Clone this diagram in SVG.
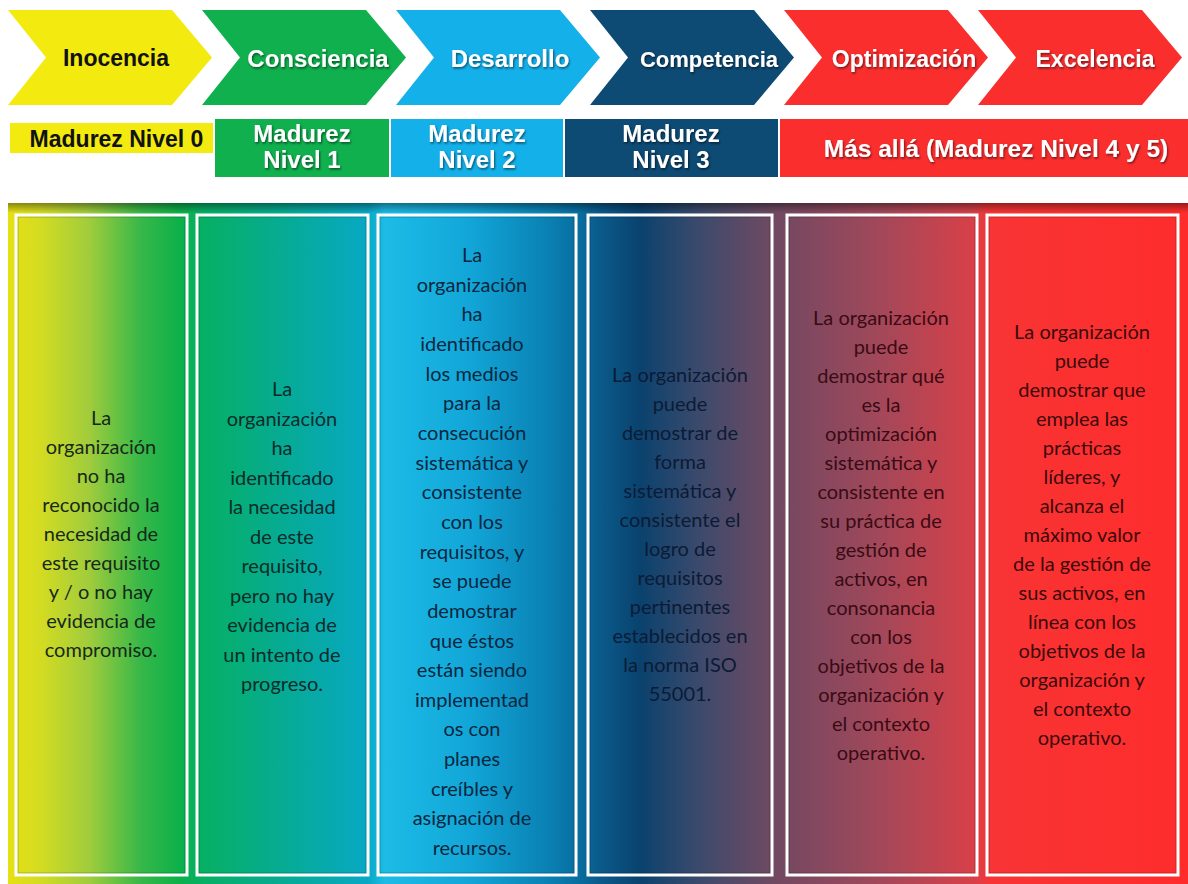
<svg xmlns="http://www.w3.org/2000/svg" width="1188" height="884" viewBox="0 0 1188 884">
  <defs>
    <style>
      .hd { font-family: "Liberation Sans", Arial, sans-serif; font-weight: bold; text-anchor: middle; }
      .wt { fill: #ffffff; filter: url(#sh); }
      .bk { fill: #111111; }
      .col { font-family: Lato, "Open Sans", sans-serif; font-size: 20px; text-anchor: middle; }
      .box { fill: none; stroke: #ffffff; stroke-width: 3; }
      .boxin { fill: none; stroke: #000000; stroke-opacity: 0.22; stroke-width: 1; }
    </style>
    <filter id="sh" x="-10%" y="-20%" width="120%" height="150%">
      <feDropShadow dx="1" dy="1.5" stdDeviation="1" flood-color="#000000" flood-opacity="0.55"/>
    </filter>
    <linearGradient id="bg" gradientUnits="userSpaceOnUse" x1="8" y1="0" x2="1188" y2="0">
      <stop offset="0" stop-color="#e6e012"/>
      <stop offset="0.027" stop-color="#d4dc22"/>
      <stop offset="0.069" stop-color="#a0cc3c"/>
      <stop offset="0.112" stop-color="#38b848"/>
      <stop offset="0.146" stop-color="#0cb04a"/>
      <stop offset="0.163" stop-color="#06b062"/>
      <stop offset="0.231" stop-color="#06ab92"/>
      <stop offset="0.305" stop-color="#08a8c4"/>
      <stop offset="0.319" stop-color="#1cbce6"/>
      <stop offset="0.391" stop-color="#12a6d8"/>
      <stop offset="0.459" stop-color="#0a80b2"/>
      <stop offset="0.485" stop-color="#086c9e"/>
      <stop offset="0.502" stop-color="#0a5a8a"/>
      <stop offset="0.536" stop-color="#0a426e"/>
      <stop offset="0.586" stop-color="#3c4a6c"/>
      <stop offset="0.646" stop-color="#6e4a62"/>
      <stop offset="0.671" stop-color="#7c4860"/>
      <stop offset="0.739" stop-color="#a2485a"/>
      <stop offset="0.819" stop-color="#d84048"/>
      <stop offset="0.834" stop-color="#f83434"/>
      <stop offset="1" stop-color="#ff2c2c"/>
    </linearGradient>
    <linearGradient id="topshade" x1="0" y1="0" x2="0" y2="1">
      <stop offset="0" stop-color="#000000" stop-opacity="0.4"/>
      <stop offset="1" stop-color="#000000" stop-opacity="0"/>
    </linearGradient>
  </defs>

  <rect width="1188" height="884" fill="#ffffff"/>

  <!-- chevrons -->
  <g id="chev-inocencia">
    <polygon points="8,10 172,10 212,57.5 172,105 8,105 46,57.5" fill="#f3ea10"/>
    <text class="hd bk" x="116" y="66" font-size="23">Inocencia</text>
  </g>
  <g id="chev-consciencia">
    <polygon points="202,10 366,10 406,57.5 366,105 202,105 240,57.5" fill="#10b04e"/>
    <text class="hd wt" x="318" y="67" font-size="24">Consciencia</text>
  </g>
  <g id="chev-desarrollo">
    <polygon points="396,10 560,10 600,57.5 560,105 396,105 434,57.5" fill="#14b0ea"/>
    <text class="hd wt" x="510" y="67" font-size="24">Desarrollo</text>
  </g>
  <g id="chev-competencia">
    <polygon points="590,10 754,10 794,57.5 754,105 590,105 628,57.5" fill="#0d4a74"/>
    <text class="hd wt" x="709" y="67" font-size="22">Competencia</text>
  </g>
  <g id="chev-optimizacion">
    <polygon points="784,10 948,10 988,57.5 948,105 784,105 822,57.5" fill="#fb2e2e"/>
    <text class="hd wt" x="904" y="67" font-size="23">Optimización</text>
  </g>
  <g id="chev-excelencia">
    <polygon points="978,10 1142,10 1182,57.5 1142,105 978,105 1016,57.5" fill="#fb2e2e"/>
    <text class="hd wt" x="1095" y="67" font-size="23">Excelencia</text>
  </g>

  <!-- maturity labels -->
  <g id="lvl0">
    <rect x="10" y="123" width="203" height="30" fill="#f3ea10"/>
    <text class="hd bk" x="116.5" y="147" font-size="23">Madurez Nivel 0</text>
  </g>
  <g id="lvl1">
    <rect x="215" y="119" width="174" height="58" fill="#10b04e"/>
    <text class="hd wt" x="302" y="142" font-size="24">Madurez</text>
    <text class="hd wt" x="302" y="168" font-size="24">Nivel 1</text>
  </g>
  <g id="lvl2">
    <rect x="391" y="119" width="172" height="58" fill="#14b0ea"/>
    <text class="hd wt" x="477" y="142" font-size="24">Madurez</text>
    <text class="hd wt" x="477" y="168" font-size="24">Nivel 2</text>
  </g>
  <g id="lvl3">
    <rect x="565" y="119" width="213" height="58" fill="#0d4a74"/>
    <text class="hd wt" x="671" y="142" font-size="24">Madurez</text>
    <text class="hd wt" x="671" y="168" font-size="24">Nivel 3</text>
  </g>
  <g id="lvl45">
    <rect x="780" y="119" width="408" height="58" fill="#fb2e2e"/>
    <text class="hd wt" x="996" y="157" font-size="24.5">Más allá (Madurez Nivel 4 y 5)</text>
  </g>

  <!-- background band -->
  <rect x="8" y="203" width="1180" height="681" fill="url(#bg)"/>
  <rect x="8" y="203" width="1180" height="10" fill="url(#topshade)"/>

  <g id="connectors"></g>

  <!-- columns -->
  <g id="col1">
    <rect class="boxin" x="18" y="217" width="167" height="656"/>
    <rect class="box" x="16" y="215" width="171" height="660"/>
    <g class="col" fill="#15291a">
      <text x="101" y="425">La</text>
      <text x="101" y="454">organización</text>
      <text x="101" y="483">no ha</text>
      <text x="101" y="512">reconocido la</text>
      <text x="101" y="541">necesidad de</text>
      <text x="101" y="570">este requisito</text>
      <text x="101" y="599">y / o no hay</text>
      <text x="101" y="628">evidencia de</text>
      <text x="101" y="657">compromiso.</text>
    </g>
  </g>
  <g id="col2">
    <rect class="boxin" x="199" y="217" width="167" height="656"/>
    <rect class="box" x="197" y="215" width="171" height="660"/>
    <g class="col" fill="#0b2c2a">
      <text x="282" y="396">La</text>
      <text x="282" y="425.5">organización</text>
      <text x="282" y="455">ha</text>
      <text x="282" y="484.5">identificado</text>
      <text x="282" y="514">la necesidad</text>
      <text x="282" y="543.5">de este</text>
      <text x="282" y="573">requisito,</text>
      <text x="282" y="602.5">pero no hay</text>
      <text x="282" y="632">evidencia de</text>
      <text x="282" y="661.5">un intento de</text>
      <text x="282" y="691">progreso.</text>
    </g>
  </g>
  <g id="col3">
    <rect class="boxin" x="380" y="217" width="194" height="656"/>
    <rect class="box" x="378" y="215" width="198" height="660"/>
    <g class="col" fill="#0a2740">
      <text x="472" y="262">La</text>
      <text x="472" y="291.6">organización</text>
      <text x="472" y="321.3">ha</text>
      <text x="472" y="351">identificado</text>
      <text x="472" y="380.6">los medios</text>
      <text x="472" y="410.2">para la</text>
      <text x="472" y="439.9">consecución</text>
      <text x="472" y="469.5">sistemática y</text>
      <text x="472" y="499.2">consistente</text>
      <text x="472" y="528.9">con los</text>
      <text x="472" y="558.5">requisitos, y</text>
      <text x="472" y="588.2">se puede</text>
      <text x="472" y="617.8">demostrar</text>
      <text x="472" y="647.5">que éstos</text>
      <text x="472" y="677.1">están siendo</text>
      <text x="472" y="706.8">implementad</text>
      <text x="472" y="736.4">os con</text>
      <text x="472" y="766.1">planes</text>
      <text x="472" y="795.7">creíbles y</text>
      <text x="472" y="825.4">asignación de</text>
      <text x="472" y="855">recursos.</text>
    </g>
  </g>
  <g id="col4">
    <rect class="boxin" x="590" y="217" width="180" height="656"/>
    <rect class="box" x="588" y="215" width="184" height="660"/>
    <g class="col" fill="#0c1b35">
      <text x="680" y="382">La organización</text>
      <text x="680" y="411">puede</text>
      <text x="680" y="440">demostrar de</text>
      <text x="680" y="469">forma</text>
      <text x="680" y="498">sistemática y</text>
      <text x="680" y="527">consistente el</text>
      <text x="680" y="556">logro de</text>
      <text x="680" y="585">requisitos</text>
      <text x="680" y="614">pertinentes</text>
      <text x="680" y="643">establecidos en</text>
      <text x="680" y="672">la norma ISO</text>
      <text x="680" y="701">55001.</text>
    </g>
  </g>
  <g id="col5">
    <rect class="boxin" x="789" y="217" width="186" height="656"/>
    <rect class="box" x="787" y="215" width="190" height="660"/>
    <g class="col" fill="#3a0b14">
      <text x="881" y="325">La organización</text>
      <text x="881" y="354">puede</text>
      <text x="881" y="383">demostrar qué</text>
      <text x="881" y="412">es la</text>
      <text x="881" y="441">optimización</text>
      <text x="881" y="470">sistemática y</text>
      <text x="881" y="499">consistente en</text>
      <text x="881" y="528">su práctica de</text>
      <text x="881" y="557">gestión de</text>
      <text x="881" y="586">activos, en</text>
      <text x="881" y="615">consonancia</text>
      <text x="881" y="644">con los</text>
      <text x="881" y="673">objetivos de la</text>
      <text x="881" y="702">organización y</text>
      <text x="881" y="731">el contexto</text>
      <text x="881" y="760">operativo.</text>
    </g>
  </g>
  <g id="col6">
    <rect class="boxin" x="989" y="217" width="187" height="656"/>
    <rect class="box" x="987" y="215" width="191" height="660"/>
    <g class="col" fill="#3c0a0c">
      <text x="1082" y="339">La organización</text>
      <text x="1082" y="368">puede</text>
      <text x="1082" y="397">demostrar que</text>
      <text x="1082" y="426">emplea las</text>
      <text x="1082" y="455">prácticas</text>
      <text x="1082" y="484">líderes, y</text>
      <text x="1082" y="513">alcanza el</text>
      <text x="1082" y="542">máximo valor</text>
      <text x="1082" y="571">de la gestión de</text>
      <text x="1082" y="600">sus activos, en</text>
      <text x="1082" y="629">línea con los</text>
      <text x="1082" y="658">objetivos de la</text>
      <text x="1082" y="687">organización y</text>
      <text x="1082" y="716">el contexto</text>
      <text x="1082" y="745">operativo.</text>
    </g>
  </g>
</svg>
